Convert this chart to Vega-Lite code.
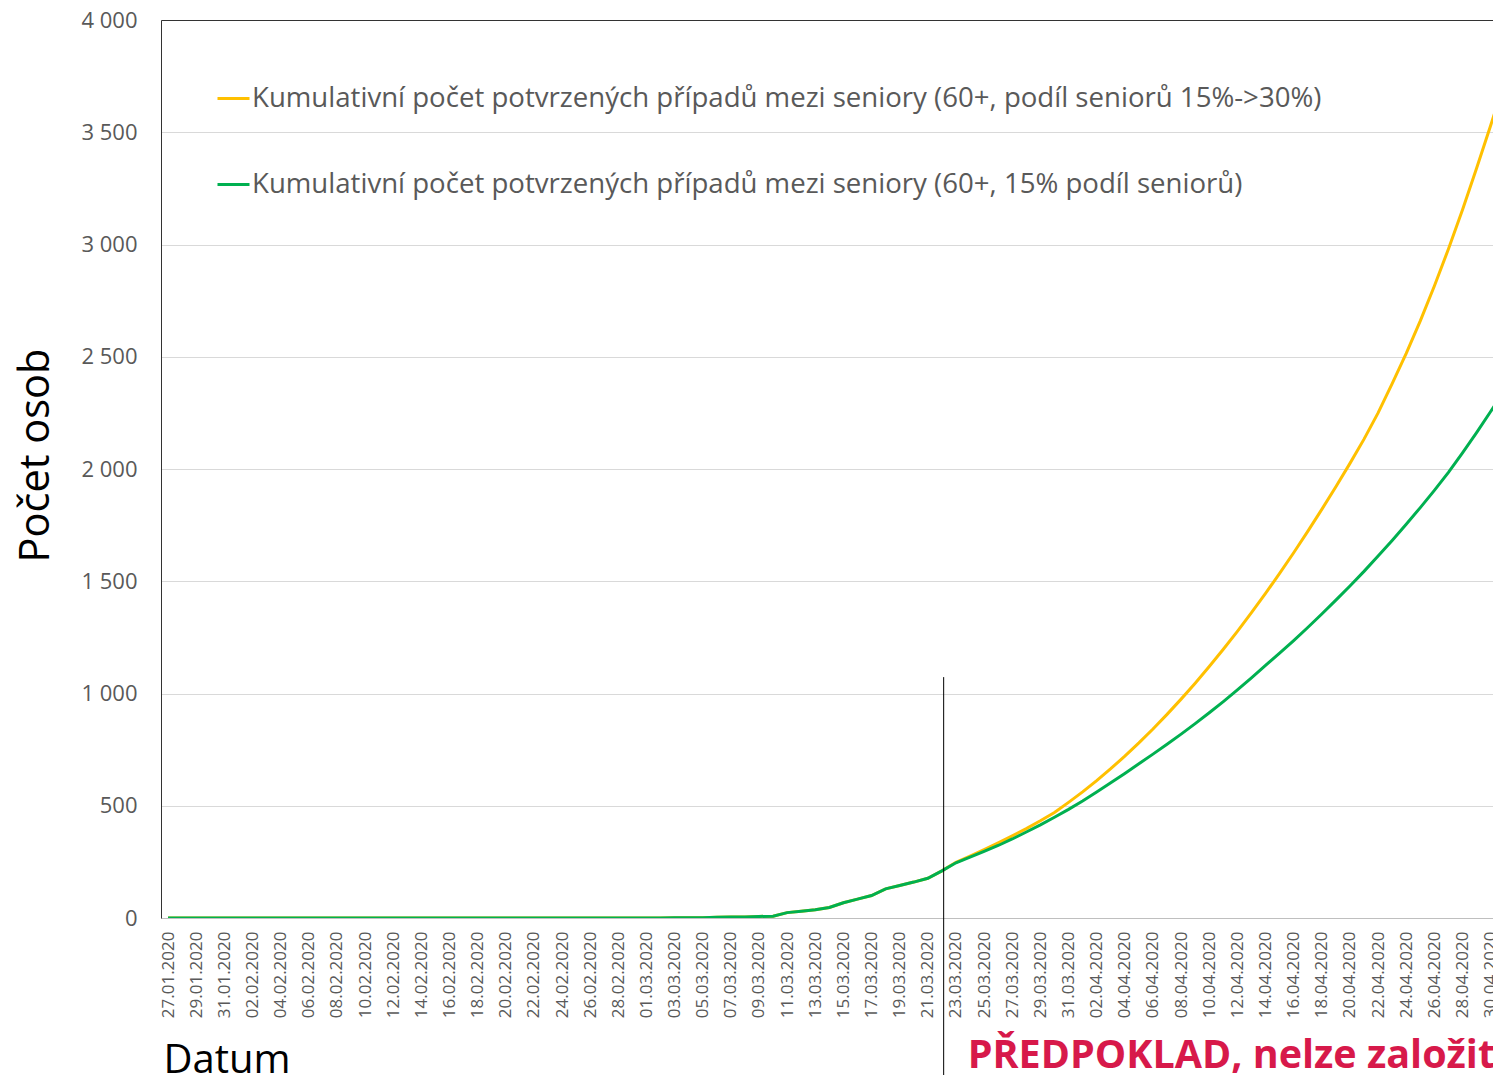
{
  "$schema": "https://vega.github.io/schema/vega-lite/v6.json",
  "autosize": {"type": "none"},
  "padding": {"left": 161, "top": 20, "right": 0, "bottom": 157},
  "width": 1332,
  "height": 898,
  "background": "white",
  "config": {"font": "Open Sans", "view": {"stroke": null}},
  "datasets": {
    "cases": [
      {"d":"2020-01-27T00:00","a":0,"b":0},{"d":"2020-01-28T00:00","a":0,"b":0},{"d":"2020-01-29T00:00","a":0,"b":0},{"d":"2020-01-30T00:00","a":0,"b":0},{"d":"2020-01-31T00:00","a":0,"b":0},
      {"d":"2020-02-01T00:00","a":0,"b":0},{"d":"2020-02-02T00:00","a":0,"b":0},{"d":"2020-02-03T00:00","a":0,"b":0},{"d":"2020-02-04T00:00","a":0,"b":0},{"d":"2020-02-05T00:00","a":0,"b":0},
      {"d":"2020-02-06T00:00","a":0,"b":0},{"d":"2020-02-07T00:00","a":0,"b":0},{"d":"2020-02-08T00:00","a":0,"b":0},{"d":"2020-02-09T00:00","a":0,"b":0},{"d":"2020-02-10T00:00","a":0,"b":0},
      {"d":"2020-02-11T00:00","a":0,"b":0},{"d":"2020-02-12T00:00","a":0,"b":0},{"d":"2020-02-13T00:00","a":0,"b":0},{"d":"2020-02-14T00:00","a":0,"b":0},{"d":"2020-02-15T00:00","a":0,"b":0},
      {"d":"2020-02-16T00:00","a":0,"b":0},{"d":"2020-02-17T00:00","a":0,"b":0},{"d":"2020-02-18T00:00","a":0,"b":0},{"d":"2020-02-19T00:00","a":0,"b":0},{"d":"2020-02-20T00:00","a":0,"b":0},
      {"d":"2020-02-21T00:00","a":0,"b":0},{"d":"2020-02-22T00:00","a":0,"b":0},{"d":"2020-02-23T00:00","a":0,"b":0},{"d":"2020-02-24T00:00","a":0,"b":0},{"d":"2020-02-25T00:00","a":0,"b":0},
      {"d":"2020-02-26T00:00","a":0,"b":0},{"d":"2020-02-27T00:00","a":0,"b":0},{"d":"2020-02-28T00:00","a":0,"b":0},{"d":"2020-02-29T00:00","a":0,"b":0},
      {"d":"2020-03-01T00:00","a":0.5,"b":0.5},{"d":"2020-03-02T00:00","a":0.5,"b":0.5},{"d":"2020-03-03T00:00","a":1,"b":1},{"d":"2020-03-04T00:00","a":1,"b":1},{"d":"2020-03-05T00:00","a":1.5,"b":1.5},
      {"d":"2020-03-06T00:00","a":3,"b":3},{"d":"2020-03-07T00:00","a":4,"b":4},{"d":"2020-03-08T00:00","a":5,"b":5},{"d":"2020-03-09T00:00","a":7,"b":7},{"d":"2020-03-10T00:00","a":8,"b":8},
      {"d":"2020-03-11T00:00","a":24,"b":24},{"d":"2020-03-12T00:00","a":30,"b":30},{"d":"2020-03-13T00:00","a":37,"b":37},{"d":"2020-03-14T00:00","a":47,"b":47},{"d":"2020-03-15T00:00","a":68,"b":68},
      {"d":"2020-03-16T00:00","a":84,"b":84},{"d":"2020-03-17T00:00","a":100,"b":100},{"d":"2020-03-18T00:00","a":130,"b":130},{"d":"2020-03-19T00:00","a":145,"b":145},{"d":"2020-03-20T00:00","a":160,"b":160},
      {"d":"2020-03-21T00:00","a":177,"b":177},{"d":"2020-03-22T00:00","a":210,"b":210},{"d":"2020-03-23T00:00","a":248,"b":246},{"d":"2020-03-24T00:00","a":276,"b":271},{"d":"2020-03-25T00:00","a":305,"b":297},
      {"d":"2020-03-26T00:00","a":335,"b":323},{"d":"2020-03-27T00:00","a":366,"b":352},{"d":"2020-03-28T00:00","a":398,"b":383},{"d":"2020-03-29T00:00","a":433,"b":415},{"d":"2020-03-30T00:00","a":470,"b":449},
      {"d":"2020-03-31T00:00","a":515,"b":484},{"d":"2020-04-01T00:00","a":562,"b":521},{"d":"2020-04-02T00:00","a":612,"b":561},{"d":"2020-04-03T00:00","a":665,"b":602},{"d":"2020-04-04T00:00","a":721,"b":644},
      {"d":"2020-04-05T00:00","a":780,"b":687},{"d":"2020-04-06T00:00","a":842,"b":730},{"d":"2020-04-07T00:00","a":907,"b":774},{"d":"2020-04-08T00:00","a":975,"b":819},{"d":"2020-04-09T00:00","a":1046,"b":866},
      {"d":"2020-04-10T00:00","a":1120,"b":914},{"d":"2020-04-11T00:00","a":1197,"b":964},{"d":"2020-04-12T00:00","a":1277,"b":1016},{"d":"2020-04-13T00:00","a":1360,"b":1070},{"d":"2020-04-14T00:00","a":1446,"b":1125},
      {"d":"2020-04-15T00:00","a":1535,"b":1180},{"d":"2020-04-16T00:00","a":1627,"b":1236},{"d":"2020-04-17T00:00","a":1722,"b":1294},{"d":"2020-04-18T00:00","a":1820,"b":1354},{"d":"2020-04-19T00:00","a":1921,"b":1416},
      {"d":"2020-04-20T00:00","a":2025,"b":1479},{"d":"2020-04-21T00:00","a":2133,"b":1544},{"d":"2020-04-22T00:00","a":2250,"b":1612},{"d":"2020-04-23T00:00","a":2380,"b":1682},{"d":"2020-04-24T00:00","a":2515,"b":1754},
      {"d":"2020-04-25T00:00","a":2660,"b":1828},{"d":"2020-04-26T00:00","a":2815,"b":1905},{"d":"2020-04-27T00:00","a":2980,"b":1985},{"d":"2020-04-28T00:00","a":3155,"b":2072},{"d":"2020-04-29T00:00","a":3340,"b":2162},
      {"d":"2020-04-30T00:00","a":3530,"b":2256},{"d":"2020-05-01T00:00","a":3725,"b":2352}
    ],
    "marker": [{"d":"2020-03-22T03:00","top":1073,"bot":-700}],
    "note": [{"d":"2020-03-23T20:00","v":-668,"t":"PŘEDPOKLAD, nelze založit na datech"}]
  },
  "resolve": {"axis": {"x": "independent"}},
  "layer": [
    {
      "data": {"name": "cases"},
      "mark": {"type": "line", "strokeWidth": 3, "clip": true},
      "encoding": {
        "x": {
          "field": "d", "type": "temporal", "title": "Datum",
          "scale": {"domain": [{"year":2020,"month":1,"date":26,"hours":12},{"year":2020,"month":4,"date":30,"hours":4}]},
          "axis": {
            "orient": "bottom",
            "values": [
              {"year":2020,"month":1,"date":27},{"year":2020,"month":1,"date":29},{"year":2020,"month":1,"date":31},
              {"year":2020,"month":2,"date":2},{"year":2020,"month":2,"date":4},{"year":2020,"month":2,"date":6},{"year":2020,"month":2,"date":8},{"year":2020,"month":2,"date":10},{"year":2020,"month":2,"date":12},{"year":2020,"month":2,"date":14},{"year":2020,"month":2,"date":16},{"year":2020,"month":2,"date":18},{"year":2020,"month":2,"date":20},{"year":2020,"month":2,"date":22},{"year":2020,"month":2,"date":24},{"year":2020,"month":2,"date":26},{"year":2020,"month":2,"date":28},
              {"year":2020,"month":3,"date":1},{"year":2020,"month":3,"date":3},{"year":2020,"month":3,"date":5},{"year":2020,"month":3,"date":7},{"year":2020,"month":3,"date":9},{"year":2020,"month":3,"date":11},{"year":2020,"month":3,"date":13},{"year":2020,"month":3,"date":15},{"year":2020,"month":3,"date":17},{"year":2020,"month":3,"date":19},{"year":2020,"month":3,"date":21},{"year":2020,"month":3,"date":23},{"year":2020,"month":3,"date":25},{"year":2020,"month":3,"date":27},{"year":2020,"month":3,"date":29},{"year":2020,"month":3,"date":31},
              {"year":2020,"month":4,"date":2},{"year":2020,"month":4,"date":4},{"year":2020,"month":4,"date":6},{"year":2020,"month":4,"date":8},{"year":2020,"month":4,"date":10},{"year":2020,"month":4,"date":12},{"year":2020,"month":4,"date":14},{"year":2020,"month":4,"date":16},{"year":2020,"month":4,"date":18},{"year":2020,"month":4,"date":20},{"year":2020,"month":4,"date":22},{"year":2020,"month":4,"date":24},{"year":2020,"month":4,"date":26},{"year":2020,"month":4,"date":28},{"year":2020,"month":4,"date":30}
            ],
            "format": "%d.%m.%Y",
            "labelAngle": 270,
            "labelFontSize": 17,
            "labelColor": "#595959",
            "labelPadding": 13,
            "labelOverlap": false,
            "labelFlush": false,
            "labelBound": false,
            "ticks": false,
            "tickSize": 0,
            "grid": false,
            "domain": true,
            "domainColor": "#BFBFBF",
            "domainWidth": 1,
            "titleFontSize": 40,
            "titleFontWeight": "normal",
            "titleColor": "#000000",
            "titleX": 2,
            "titleY": 154,
            "titleAlign": "left",
            "titleAnchor": "start",
            "titleBaseline": "alphabetic",
            "titleAngle": 0
          }
        },
        "y": {
          "field": "a", "type": "quantitative", "title": "Počet osob",
          "scale": {"domain": [0, 4000], "nice": false},
          "axis": {
            "values": [0, 500, 1000, 1500, 2000, 2500, 3000, 3500, 4000],
            "labelExpr": "replace(format(datum.value, ','), ',', ' ')",
            "labelFontSize": 22,
            "labelColor": "#595959",
            "labelPadding": 24,
            "ticks": false,
            "tickSize": 0,
            "grid": true,
            "gridColor": "#D9D9D9",
            "gridWidth": 1,
            "domain": true,
            "domainColor": "#333333",
            "domainWidth": 1,
            "titleFontSize": 41.5,
            "titleFontWeight": "normal",
            "titleColor": "#000000",
            "titleX": -113,
            "titleY": 435,
            "titleAngle": 270,
            "titleAlign": "center",
            "titleBaseline": "alphabetic"
          }
        },
        "color": {
          "datum": "a", "type": "nominal",
          "scale": {"domain": ["a", "b"], "range": ["#FFC000", "#00B050"]},
          "legend": {
            "orient": "none",
            "legendX": 55,
            "legendY": 61,
            "direction": "vertical",
            "title": null,
            "padding": 0,
            "symbolType": "stroke",
            "symbolSize": 1024,
            "symbolStrokeWidth": 3,
            "labelFontSize": 27.6,
            "labelColor": "#595959",
            "labelOffset": 1,
            "labelLimit": 0,
            "rowPadding": 54,
            "labelExpr": "datum.value == 'a' ? 'Kumulativní počet potvrzených případů mezi seniory (60+, podíl seniorů 15%->30%)' : 'Kumulativní počet potvrzených případů mezi seniory (60+, 15% podíl seniorů)'"
          }
        }
      }
    },
    {
      "data": {"name": "cases"},
      "mark": {"type": "line", "strokeWidth": 3, "clip": true},
      "encoding": {
        "x": {"field": "d", "type": "temporal", "axis": null},
        "y": {"field": "b", "type": "quantitative", "title": "Počet osob", "scale": {"domain": [0, 4000], "nice": false}},
        "color": {"datum": "b", "type": "nominal"}
      }
    },
    {
      "data": {"name": "marker"},
      "mark": {"type": "rule", "color": "#000000", "strokeWidth": 1},
      "encoding": {
        "x": {
          "field": "d", "type": "temporal",
          "axis": {"orient": "top", "title": null, "labels": false, "ticks": false, "grid": false, "domain": true, "domainColor": "#333333", "domainWidth": 1}
        },
        "y": {"field": "top", "type": "quantitative", "title": "Počet osob", "scale": {"domain": [0, 4000], "nice": false}},
        "y2": {"field": "bot"}
      }
    },
    {
      "data": {"name": "note"},
      "mark": {"type": "text", "align": "left", "baseline": "alphabetic", "fontSize": 39.5, "fontWeight": "bold", "color": "#D7194A"},
      "encoding": {
        "x": {"field": "d", "type": "temporal", "axis": null},
        "y": {"field": "v", "type": "quantitative", "title": "Počet osob", "scale": {"domain": [0, 4000], "nice": false}},
        "text": {"field": "t"}
      }
    }
  ]
}
